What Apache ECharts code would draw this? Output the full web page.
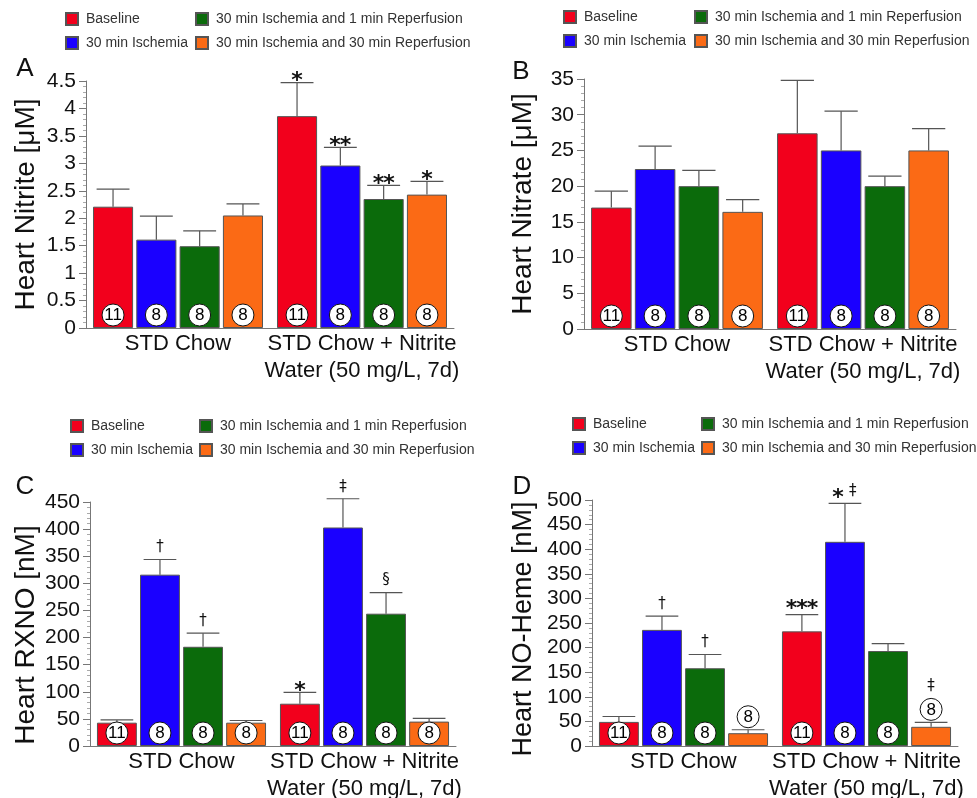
<!DOCTYPE html>
<html><head><meta charset="utf-8">
<script src="https://cdn.jsdelivr.net/npm/echarts@6/dist/echarts.min.js"></script>
<style>html,body{margin:0;padding:0;background:#fff}#c{width:977px;height:798px}</style>
</head><body><div id="c"></div>
<script>
// ---------- DATA ----------
const categories = ['STD Chow', 'STD Chow + Nitrite\nWater (50 mg/L, 7d)'];
const conditions = ['Baseline', '30 min Ischemia', '30 min Ischemia and 1 min Reperfusion', '30 min Ischemia and 30 min Reperfusion'];
const nCounts = [[11, 11], [8, 8], [8, 8], [8, 8]];

// Panel A : Heart Nitrite [μM]   (rows = condition, cols = category)
const nitriteMean = [[2.21, 3.86], [1.61, 2.96], [1.49, 2.35], [2.05, 2.43]];
const nitriteErr  = [[0.32, 0.61], [0.43, 0.33], [0.28, 0.25], [0.21, 0.24]];
const nitriteMarks = [['', '*'], ['', '**'], ['', '**'], ['', '*']];
const nitriteTicks = [0, 0.5, 1, 1.5, 2, 2.5, 3, 3.5, 4, 4.5];

// Panel B : Heart Nitrate [μM]
const nitrateMean = [[17.0, 27.4], [22.4, 25.0], [20.0, 20.0], [16.4, 25.0]];
const nitrateErr  = [[2.3, 7.4], [3.2, 5.5], [2.2, 1.4], [1.7, 3.05]];
const nitrateMarks = [['', ''], ['', ''], ['', ''], ['', '']];
const nitrateTicks = [0, 5, 10, 15, 20, 25, 30, 35];

// Panel C : Heart RXNO [nM]
const rxnoMean = [[43, 78], [316, 403], [183, 244], [43, 45]];
const rxnoErr  = [[5, 21], [28, 53], [25, 39], [4, 6]];
const rxnoMarks = [['', '*'], ['†', '‡'], ['†', '§'], ['', '']];
const rxnoTicks = [0, 50, 100, 150, 200, 250, 300, 350, 400, 450];

// Panel D : Heart NO-Heme [nM]
const nohemeMean = [[49, 233], [236, 415], [158, 193], [26, 39]];
const nohemeErr  = [[11, 34], [28, 78], [28, 15], [7, 9]];
const nohemeMarks = [['', '***'], ['†', '* ‡'], ['†', ''], ['', '‡']];
const nohemeCircleAbove = [[0, 0], [0, 0], [0, 0], [1, 1]];
const noCircleAbove = [[0, 0], [0, 0], [0, 0], [0, 0]];
const nohemeTicks = [0, 50, 100, 150, 200, 250, 300, 350, 400, 450, 500];

// ---------- STYLE / LAYOUT ----------
const FONT = '"Liberation Sans", Arial, sans-serif';
const colors = ['#f2001c', '#1a00ff', '#0b6b0b', '#fb6a15'];
const CAT_GAP = 0.076, BAR_GAP = 0.08;

const panels = [
  { letter: 'A', name: 'Heart Nitrite [μM]', mean: nitriteMean, err: nitriteErr, marks: nitriteMarks, above: noCircleAbove, ticks: nitriteTicks,
    grid: { left: 86, top: 81, width: 368, height: 247 }, nameGap: 46, namePad: 0, nameSize: 28, tickSize: 21,
    legendX: [65, 195], legendY: 12, letterPos: [25, 69], lift: 6 },
  { letter: 'B', name: 'Heart Nitrate [μM]', mean: nitrateMean, err: nitrateErr, marks: nitrateMarks, above: noCircleAbove, ticks: nitrateTicks,
    grid: { left: 584, top: 79, width: 372, height: 250 }, nameGap: 47, namePad: 0, nameSize: 28, tickSize: 21,
    legendX: [563, 694], legendY: 10, letterPos: [521, 72], lift: 6 },
  { letter: 'C', name: 'Heart RXNO [nM]', mean: rxnoMean, err: rxnoErr, marks: rxnoMarks, above: noCircleAbove, ticks: rxnoTicks,
    grid: { left: 90, top: 502, width: 366, height: 244 }, nameGap: 50, namePad: 22, nameSize: 28, tickSize: 21,
    legendX: [70, 199], legendY: 419, letterPos: [25, 487], lift: 6 },
  { letter: 'D', name: 'Heart NO-Heme [nM]', mean: nohemeMean, err: nohemeErr, marks: nohemeMarks, above: nohemeCircleAbove, ticks: nohemeTicks,
    grid: { left: 592, top: 500, width: 366, height: 246 }, nameGap: 55, namePad: 12, nameSize: 27, tickSize: 21,
    legendX: [572, 701], legendY: 417, letterPos: [522, 487], lift: 10 }
];

const grids = [], xAxes = [], yAxes = [], series = [], legends = [], graphics = [];

panels.forEach((p, pi) => {
  grids.push(Object.assign({ containLabel: false, outerBoundsMode: 'none' }, p.grid));
  xAxes.push({
    gridIndex: pi, type: 'category', data: categories,
    axisLine: { show: true, lineStyle: { color: '#777', width: 1 } },
    axisTick: { show: false },
    axisLabel: { interval: 0, fontSize: 22, lineHeight: 27, color: '#111', fontFamily: FONT, margin: 2 },
    splitLine: { show: false }
  });
  const t = p.ticks;
  yAxes.push({
    gridIndex: pi, type: 'value', min: t[0], max: t[t.length - 1], interval: t[1] - t[0],
    name: p.name, nameLocation: 'middle', nameGap: p.nameGap,
    nameTextStyle: { fontSize: p.nameSize, fontFamily: FONT, color: '#111', padding: [0, p.namePad, 0, 0] },
    axisLine: { show: true, lineStyle: { color: '#777', width: 1 } },
    axisTick: { show: true, length: 7, lineStyle: { color: '#777' } },
    minorTick: { show: true, splitNumber: 5, length: 3, lineStyle: { color: '#aaa' } },
    splitLine: { show: false },
    axisLabel: { fontSize: p.tickSize, color: '#111', fontFamily: FONT, margin: 10 }
  });
  conditions.forEach((name, s) => {
    series.push({
      type: 'bar', name: name, xAxisIndex: pi, yAxisIndex: pi,
      data: p.mean[s], barCategoryGap: (CAT_GAP * 100) + '%', barGap: (BAR_GAP * 100) + '%',
      itemStyle: { color: colors[s], borderColor: '#555', borderWidth: 1 },
      emphasis: { disabled: true }, silent: true
    });
  });
  // overlay: error bars, n circles, significance marks
  const data = [];
  for (let s = 0; s < 4; s++) for (let c = 0; c < 2; c++) data.push([c, p.mean[s][c] + p.err[s][c], s, p.mean[s][c]]);
  series.push({
    type: 'custom', xAxisIndex: pi, yAxisIndex: pi, data: data, encode: { x: 0, y: 1 }, z: 5, clip: false, silent: true,
    renderItem: function (params, api) {
      const c = api.value(0), top = api.value(1), s = api.value(2), mean = api.value(3);
      const bandW = api.size([1, 0])[0];
      const groupW = bandW * (1 - CAT_GAP);
      const barW = groupW / (4 + 3 * BAR_GAP);
      const base = api.coord([c, 0]);
      const cx = base[0] - groupW / 2 + barW / 2 + s * barW * (1 + BAR_GAP);
      const y0 = base[1], yM = api.coord([c, mean])[1], yT = api.coord([c, top])[1];
      const capW = barW * 0.82;
      const lineStyle = { stroke: '#555', lineWidth: 1.2 };
      const ch = [
        { type: 'line', shape: { x1: cx, y1: yM, x2: cx, y2: yT }, style: lineStyle },
        { type: 'line', shape: { x1: cx - capW / 2, y1: yT, x2: cx + capW / 2, y2: yT }, style: lineStyle }
      ];
      const above = p.above[s][c];
      const cy = above ? yT - 13 : y0 - 13;
      ch.push({ type: 'circle', shape: { cx: cx, cy: cy, r: 11 }, style: { fill: '#fff', stroke: '#111', lineWidth: 1 } });
      ch.push({ type: 'text', style: { text: String(nCounts[s][c]), x: cx, y: cy + 0.5, align: 'center', verticalAlign: 'middle', font: '17px ' + FONT, fill: '#000' } });
      const mark = p.marks[s][c];
      if (mark) {
        const ref = above ? cy - 11 : yT;
        const adv = ch2 => ch2 === '*' ? 10.5 : (ch2 === ' ' ? 5 : 9);
        let total = 0; for (const k of mark) total += adv(k);
        let x = cx - total / 2;
        for (const k of mark) {
          const w = adv(k);
          if (k !== ' ') {
            const isStar = k === '*';
            ch.push({ type: 'text', style: {
              text: k, x: x + w / 2, y: isStar ? ref - p.lift + 4.5 : ref - 12,
              align: 'center', verticalAlign: 'middle',
              font: isStar ? 'bold 22px "DejaVu Sans", sans-serif' : '15px "DejaVu Sans", sans-serif', fill: '#111' } });
          }
          x += w;
        }
      }
      return { type: 'group', children: ch };
    }
  });
  const legendBase = {
    orient: 'vertical', top: p.legendY, itemWidth: 12, itemHeight: 12, itemGap: 10, padding: 0, icon: 'rect',
    selectedMode: false, textStyle: { fontSize: 14, fontFamily: FONT, color: '#333', padding: [0, 0, 0, 3] }
  };
  legends.push(Object.assign({}, legendBase, { left: p.legendX[0], data: [conditions[0], conditions[1]] }));
  legends.push(Object.assign({}, legendBase, { left: p.legendX[1], data: [conditions[2], conditions[3]] }));
  graphics.push({ type: 'text', x: p.letterPos[0], y: p.letterPos[1], style: { text: p.letter, align: 'center', verticalAlign: 'middle', font: '26px ' + FONT, fill: '#111' } });
});

const chart = echarts.init(document.getElementById('c'), null, { renderer: 'canvas' });
chart.setOption({
  backgroundColor: '#fff', animation: false,
  grid: grids, xAxis: xAxes, yAxis: yAxes, series: series, legend: legends, graphic: graphics
});
</script></body></html>
